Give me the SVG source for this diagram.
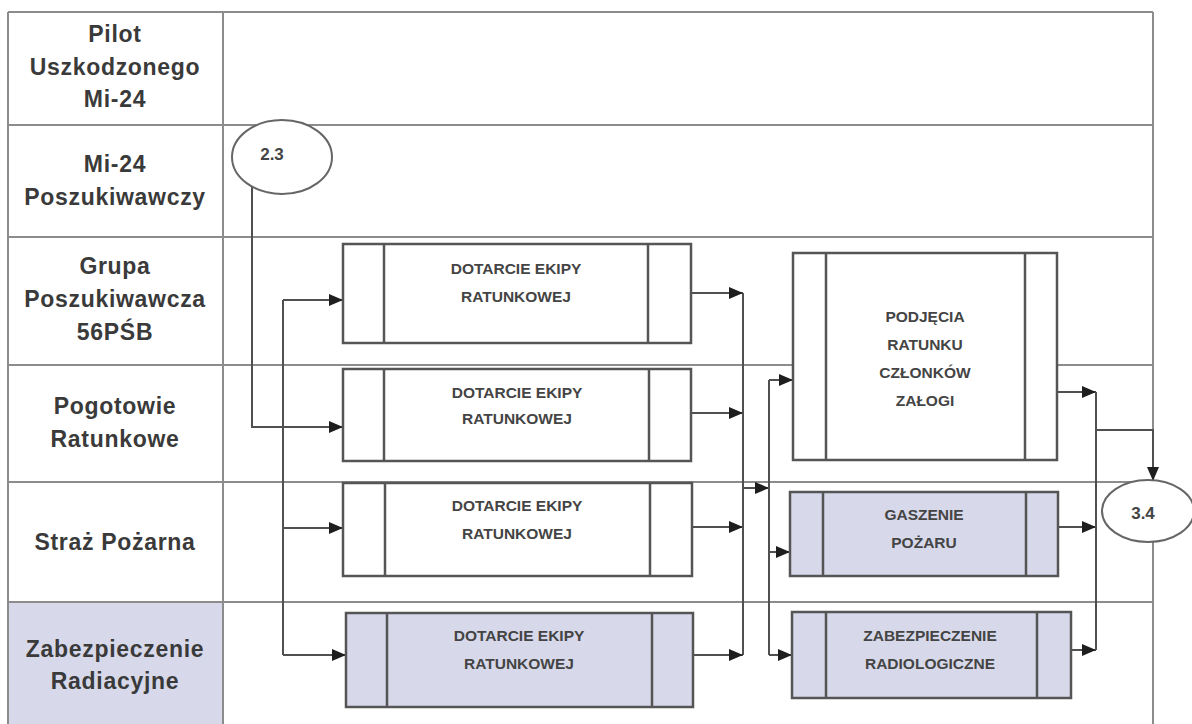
<svg xmlns="http://www.w3.org/2000/svg" width="1192" height="724" viewBox="0 0 1192 724">
<style>
.lane{stroke:#8c8c8c;stroke-width:2;fill:none}
.lbl{font-family:"Liberation Sans",Arial,sans-serif;font-weight:bold;font-size:23px;fill:#3a3a3a;text-anchor:middle;letter-spacing:0.7px}
.box{stroke:#555;stroke-width:2.5;fill:#fff}
.box.hl{fill:#d7d9ea}
.div{stroke:#555;stroke-width:2.5}
.bt{font-family:"Liberation Sans",Arial,sans-serif;font-weight:bold;font-size:15.5px;fill:#444;text-anchor:middle}
.con{stroke:#505050;stroke-width:2;fill:none}
.arr{stroke:#505050;stroke-width:2;fill:none;marker-end:url(#ah)}
.conn{stroke:#666;stroke-width:2;fill:#fff}
.ct{font-family:"Liberation Sans",Arial,sans-serif;font-weight:bold;font-size:17px;fill:#444;text-anchor:middle}
</style>
<defs>
<marker id="ah" markerWidth="14" markerHeight="12" refX="14" refY="6" orient="auto" markerUnits="userSpaceOnUse">
<path d="M0,0 L14,6 L0,12 z" fill="#1e1e1e"/>
</marker>
</defs>
<rect width="1192" height="724" fill="#fff"/>
<g id="lanes">
<rect x="8" y="602" width="215" height="122" fill="#d7d9ea"/>
<path class="lane" d="M8 12 H1153 M8 125 H1153 M8 237 H1153 M8 365 H1153 M8 482 H1153 M8 602 H1153 M8 12 V724 M223 12 V724 M1153 12 V724"/>
<text class="lbl"><tspan x="115" y="42">Pilot</tspan><tspan x="115" y="75">Uszkodzonego</tspan><tspan x="115" y="107">Mi-24</tspan></text>
<text class="lbl"><tspan x="115" y="172">Mi-24</tspan><tspan x="115" y="205">Poszukiwawczy</tspan></text>
<text class="lbl"><tspan x="115" y="274">Grupa</tspan><tspan x="115" y="307">Poszukiwawcza</tspan><tspan x="115" y="340">56PŚB</tspan></text>
<text class="lbl"><tspan x="115" y="414">Pogotowie</tspan><tspan x="115" y="447">Ratunkowe</tspan></text>
<text class="lbl"><tspan x="115" y="550">Straż Pożarna</tspan></text>
<text class="lbl"><tspan x="115" y="657">Zabezpieczenie</tspan><tspan x="115" y="689">Radiacyjne</tspan></text>
</g>
<g id="connectors">
<path class="arr" d="M252 187 V427 H343"/>
<path class="con" d="M283 300 V655"/>
<path class="arr" d="M283 300 H343"/>
<path class="arr" d="M283 528 H343"/>
<path class="arr" d="M283 655 H346"/>
<path class="arr" d="M691 293 H743"/>
<path class="arr" d="M691 413 H743"/>
<path class="arr" d="M691 527 H743"/>
<path class="arr" d="M693 655 H743"/>
<path class="con" d="M743 293 V655"/>
<path class="arr" d="M743 488 H769"/>
<path class="con" d="M769 380 V655"/>
<path class="arr" d="M769 380 H793"/>
<path class="arr" d="M769 552 H790"/>
<path class="arr" d="M769 655 H792"/>
<path class="arr" d="M1057 392 H1096"/>
<path class="arr" d="M1058 527 H1096"/>
<path class="arr" d="M1058 650 H1096"/>
<path class="con" d="M1096 392 V650"/>
<path class="arr" d="M1096 430 H1153 V481"/>
</g>
<g id="c23">
<ellipse class="conn" cx="282" cy="157" rx="50" ry="37"/>
<text class="ct" x="272" y="160" font-size="15">2.3</text>
</g>
<g id="c34">
<ellipse class="conn" cx="1148" cy="511" rx="46" ry="31"/>
<text class="ct" x="1143" y="519">3.4</text>
</g>
<g id="n1">
<rect class="box" x="343" y="244" width="348" height="99"/>
<path class="div" d="M384 244 V343 M648 244 V343"/>
<text class="bt"><tspan x="516" y="274">DOTARCIE EKIPY</tspan><tspan x="516" y="302">RATUNKOWEJ</tspan></text>
</g>
<g id="n2">
<rect class="box" x="343" y="369" width="348" height="92"/>
<path class="div" d="M384 369 V461 M649 369 V461"/>
<text class="bt"><tspan x="517" y="398">DOTARCIE EKIPY</tspan><tspan x="517" y="424">RATUNKOWEJ</tspan></text>
</g>
<g id="n3">
<rect class="box" x="343" y="483" width="349" height="93"/>
<path class="div" d="M385 483 V576 M650 483 V576"/>
<text class="bt"><tspan x="517" y="511">DOTARCIE EKIPY</tspan><tspan x="517" y="539">RATUNKOWEJ</tspan></text>
</g>
<g id="n4">
<rect class="box hl" x="346" y="613" width="347" height="94"/>
<path class="div" d="M387 613 V707 M652 613 V707"/>
<text class="bt"><tspan x="519" y="641">DOTARCIE EKIPY</tspan><tspan x="519" y="669">RATUNKOWEJ</tspan></text>
</g>
<g id="n5">
<rect class="box" x="793" y="253" width="264" height="207"/>
<path class="div" d="M826 253 V460 M1025 253 V460"/>
<text class="bt"><tspan x="925" y="322">PODJĘCIA</tspan><tspan x="925" y="350">RATUNKU</tspan><tspan x="925" y="378">CZŁONKÓW</tspan><tspan x="925" y="406">ZAŁOGI</tspan></text>
</g>
<g id="n6">
<rect class="box hl" x="790" y="492" width="268" height="84"/>
<path class="div" d="M823 492 V576 M1026 492 V576"/>
<text class="bt"><tspan x="924" y="520">GASZENIE</tspan><tspan x="924" y="548">POŻARU</tspan></text>
</g>
<g id="n7">
<rect class="box hl" x="792" y="612" width="279" height="86"/>
<path class="div" d="M826 612 V698 M1037 612 V698"/>
<text class="bt"><tspan x="930" y="641">ZABEZPIECZENIE</tspan><tspan x="930" y="669">RADIOLOGICZNE</tspan></text>
</g>
</svg>
